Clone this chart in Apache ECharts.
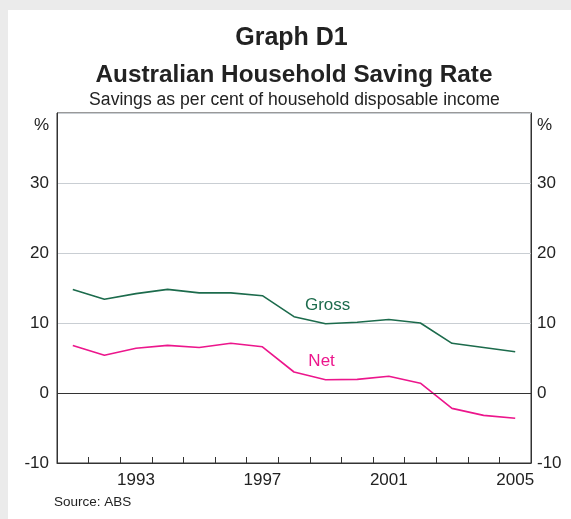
<!DOCTYPE html>
<html>
<head>
<meta charset="utf-8">
<script src="https://cdn.jsdelivr.net/npm/echarts@6/dist/echarts.min.js"></script>
<style>
html,body{margin:0;padding:0;background:#ebebeb;width:571px;height:519px;overflow:hidden;}
#panel{position:absolute;left:8px;top:10px;right:0;bottom:0;background:#fff;}
#c{position:absolute;left:0;top:0;width:571px;height:519px;}
</style>
</head>
<body>
<div id="panel"></div>
<div id="c"></div>
<script>
const years = ['1991','1992','1993','1994','1995','1996','1997','1998','1999','2000','2001','2002','2003','2004','2005'];
const gross = [14.8, 13.4, 14.2, 14.8, 14.3, 14.3, 13.9, 10.9, 9.9, 10.1, 10.5, 10.0, 7.1, 6.5, 5.9];
const net = [6.8, 5.4, 6.4, 6.8, 6.5, 7.1, 6.6, 3.0, 1.9, 1.95, 2.4, 1.4, -2.2, -3.2, -3.6];
const yTicks = [-10, 0, 10, 20, 30, 40];
const labelYear = '1999';

const FONT = "'Liberation Sans', Arial, Helvetica, sans-serif";
const GREEN = '#1c6b4c';
const PINK = '#ec168c';

function withLabel(arr, text, color, offset) {
  return arr.map((v, i) => years[i] === labelYear ? {
    value: v,
    label: {show: true, formatter: text, position: 'top', distance: 10, offset: offset,
      color: color, fontSize: 17, fontFamily: FONT}
  } : v);
}

const yLabel = {
  fontSize: 17, color: '#222', fontFamily: FONT,
  formatter: v => v === yTicks[yTicks.length - 1] ? '{p|%}' : String(v),
  rich: {p: {padding: [24, 0, 0, 0], fontSize: 17, color: '#222', fontFamily: FONT}}
};

const chart = echarts.init(document.getElementById('c'), null, {renderer: 'canvas'});
chart.setOption({
  animation: false,
  textStyle: {fontFamily: FONT},
  grid: {left: 57, right: 40, top: 113, bottom: 56, show: true, borderColor: '#333', borderWidth: 1, backgroundColor: 'transparent'},
  graphic: [
    {type: 'text', x: 291.5, y: 38, style: {text: 'Graph D1', fontSize: 25, fontWeight: 'bold', fontFamily: FONT, fill: '#222', align: 'center', verticalAlign: 'middle'}},
    {type: 'text', x: 294, y: 75, style: {text: 'Australian Household Saving Rate', fontSize: 24.3, fontWeight: 'bold', fontFamily: FONT, fill: '#222', align: 'center', verticalAlign: 'middle'}},
    {type: 'text', x: 294.5, y: 100, style: {text: 'Savings as per cent of household disposable income', fontSize: 17.6, fontFamily: FONT, fill: '#222', align: 'center', verticalAlign: 'middle'}},
    {type: 'text', x: 54, y: 502, style: {text: 'Source: ABS', fontSize: 13.5, fontFamily: FONT, fill: '#222', align: 'left', verticalAlign: 'middle'}}
  ],
  xAxis: {
    type: 'category', data: years, boundaryGap: true,
    axisLine: {show: true, onZero: false, lineStyle: {color: '#333', width: 1}},
    axisTick: {show: true, inside: true, length: 6, interval: 0, alignWithLabel: false, lineStyle: {color: '#333'}},
    axisLabel: {interval: (i, v) => (Number(v) - 1993) % 4 === 0, fontSize: 17, color: '#222', margin: 9, fontFamily: FONT},
    splitLine: {show: false}
  },
  yAxis: [
    {type: 'value', min: -10, max: 40, interval: 10, position: 'left',
      axisLine: {show: true, lineStyle: {color: '#333'}}, axisTick: {show: false},
      axisLabel: Object.assign({margin: 8}, yLabel),
      splitLine: {show: true, lineStyle: {color: '#c9ced3', width: 1}}},
    {type: 'value', min: -10, max: 40, interval: 10, position: 'right',
      axisLine: {show: true, lineStyle: {color: '#333'}}, axisTick: {show: false},
      axisLabel: Object.assign({margin: 6}, yLabel),
      splitLine: {show: false}}
  ],
  series: [
    {type: 'line', name: 'Gross', data: withLabel(gross, 'Gross', GREEN, [2, 0]),
      symbol: 'circle', symbolSize: 0, showSymbol: true,
      lineStyle: {color: GREEN, width: 1.6}, itemStyle: {color: GREEN},
      markLine: {silent: true, symbol: 'none', label: {show: false}, lineStyle: {color: '#333', width: 1, type: 'solid'}, data: [{yAxis: 0}]}},
    {type: 'line', name: 'Net', data: withLabel(net, 'Net', PINK, [-4, 0]),
      symbol: 'circle', symbolSize: 0, showSymbol: true,
      lineStyle: {color: PINK, width: 1.6}, itemStyle: {color: PINK}}
  ]
});
</script>
</body>
</html>
